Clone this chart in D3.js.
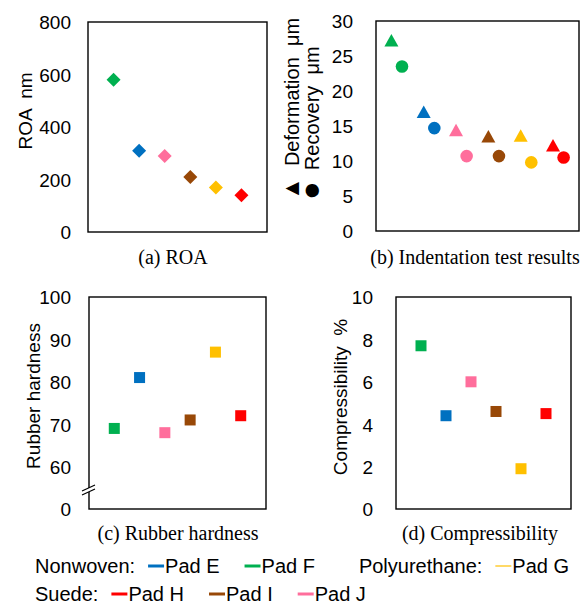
<!DOCTYPE html>
<html>
	<head>
		<meta charset="utf-8">
		<title>Pad properties</title>
		<script src="https://d3js.org/d3.v7.min.js"></script>
		<style type="text/css">
			body { margin: 0; background: #fff; }
			text { white-space: pre; }
			.tick text { font-family: "Liberation Sans", Arial, sans-serif; font-size: 19px; fill: #000; }
			.lbl { font-family: "Liberation Sans", Arial, sans-serif; font-size: 19px; fill: #000; }
			.ttl { font-family: "Liberation Serif", "Times New Roman", serif; font-size: 20px; fill: #000; }
			.leg { font-family: "Liberation Sans", Arial, sans-serif; font-size: 20px; fill: #000; }
		</style>
	</head>
	<body>
		<script type="text/javascript">

			//Pads, in the order they appear along the x axis
			var pads = ['Pad F', 'Pad E', 'Pad J', 'Pad I', 'Pad G', 'Pad H'];
			var padColors = ['#00B050', '#0070C0', '#FF6E9C', '#984807', '#FFC000', '#FF0000'];

			//Values
			var roa = [580, 310, 290, 210, 170, 140];
			var deformation = [27.2, 17.0, 14.4, 13.5, 13.6, 12.2];
			var recovery = [23.5, 14.7, 10.7, 10.7, 9.8, 10.5];
			var hardness = [69, 81, 68, 71, 87, 72];
			var compressibility = [7.7, 4.4, 6.0, 4.6, 1.9, 4.5];

			//Tick values
			var roaTicks = [0, 200, 400, 600, 800];
			var indentTicks = [0, 5, 10, 15, 20, 25, 30];
			var hardnessTicks = [50, 60, 70, 80, 90, 100];  //50 sits at the axis break and is shown as 0
			var compTicks = [0, 2, 4, 6, 8, 10];

			//Legend
			var legendGroups = ['Nonwoven:', 'Polyurethane:', 'Suede:'];
			var legendPads = [['Pad E', 'Pad F'], ['Pad G'], ['Pad H', 'Pad I', 'Pad J']];

			var svg = d3.select('body')
				.append('svg')
				.attr('width', 588)
				.attr('height', 606);

			function colorOf(p) { return padColors[pads.indexOf(p)]; }

			//Draws one framed panel, returns scales
			function panel(box, domain, ticks, pad, xPadding, fmt) {
				var x = d3.scalePoint().domain(pads).range([box.x0, box.x1]).padding(xPadding);
				var y = d3.scaleLinear().domain(domain).range([box.y1, box.y0]);
				var g = svg.append('g');
				var yAxis = d3.axisLeft(y).tickValues(ticks).tickSize(0).tickPadding(pad);
				if (fmt) yAxis.tickFormat(fmt);
				g.append('g')
					.attr('transform', 'translate(' + box.x0 + ',0)')
					.call(yAxis)
					.call(function(s) { s.select('.domain').remove(); })
					.selectAll('text').attr('dy', '0.36em');
				g.append('rect')
					.attr('x', box.x0).attr('y', box.y0)
					.attr('width', box.x1 - box.x0).attr('height', box.y1 - box.y0)
					.attr('fill', 'none').attr('stroke', '#000').attr('stroke-width', 1.4);
				return { x: x, y: y, g: g };
			}

			function vLabel(x, y, text, anchor) {
				return svg.append('text')
					.attr('class', 'lbl')
					.attr('transform', 'translate(' + x + ',' + y + ') rotate(-90)')
					.attr('text-anchor', anchor || 'middle')
					.attr('dy', '0.35em')
					.text(text);
			}

			function title(x, y, text) {
				svg.append('text').attr('class', 'ttl')
					.attr('x', x).attr('y', y).attr('text-anchor', 'middle').text(text);
			}

			//(a) ROA - diamonds
			var a = panel({ x0: 88, x1: 267, y0: 22, y1: 232 }, [0, 800], roaTicks, 17, 1);
			a.g.selectAll('path.pt')
				.data(roa)
				.enter()
				.append('path')
				.attr('d', 'M0,-7L7,0L0,7L-7,0Z')
				.attr('transform', function(d, i) { return 'translate(' + a.x(pads[i]) + ',' + a.y(d) + ')'; })
				.attr('fill', function(d, i) { return padColors[i]; });
			vLabel(25, 111, 'ROA  nm');
			title(173, 264, '(a) ROA');

			//(b) Indentation - triangles and circles
			var b = panel({ x0: 376, x1: 579, y0: 21, y1: 231 }, [0, 30], indentTicks, 23, 0.64);
			var off = 5.3;
			b.g.selectAll('path.tri')
				.data(deformation)
				.enter()
				.append('path')
				.attr('d', 'M0,-6.5L7,6L-7,6Z')
				.attr('transform', function(d, i) { return 'translate(' + (b.x(pads[i]) - off) + ',' + b.y(d) + ')'; })
				.attr('fill', function(d, i) { return padColors[i]; });
			b.g.selectAll('circle')
				.data(recovery)
				.enter()
				.append('circle')
				.attr('cx', function(d, i) { return b.x(pads[i]) + off; })
				.attr('cy', function(d) { return b.y(d); })
				.attr('r', 6.3)
				.attr('fill', function(d, i) { return padColors[i]; });
			var l1 = vLabel(292, 200, '', 'start').style('font-size', '20px');
			l1.append('tspan').style('font-size', '23px').text('\u25B2');
			l1.append('tspan').text('  Deformation  \u03BCm');
			var l2 = vLabel(319, 200, '', 'start').style('font-size', '20px');
			l2.append('tspan').style('font-size', '31px').attr('dy', '0.08em').text('\u25CF');
			l2.append('tspan').attr('dy', '-0.12em').text('  Recovery  \u03BCm');
			title(475, 264, '(b) Indentation test results');

			//(c) Rubber hardness - squares, broken axis
			var c = panel({ x0: 89, x1: 266, y0: 297, y1: 509 }, [50, 100], hardnessTicks, 18, 1,
				function(d) { return d === 50 ? '0' : d; });
			c.g.selectAll('rect.pt')
				.data(hardness)
				.enter()
				.append('rect')
				.attr('x', function(d, i) { return c.x(pads[i]) - 5.5; })
				.attr('y', function(d) { return c.y(d) - 5.5; })
				.attr('width', 11).attr('height', 11)
				.attr('fill', function(d, i) { return padColors[i]; });
			//axis break
			var yb = 490;
			c.g.append('rect').attr('x', 85).attr('y', yb - 2).attr('width', 8).attr('height', 4).attr('fill', '#fff');
			c.g.append('path')
				.attr('d', 'M82,' + (yb + 1) + 'L95,' + (yb - 5) + 'M82,' + (yb + 5) + 'L95,' + (yb - 1))
				.attr('stroke', '#000').attr('stroke-width', 1.2).attr('fill', 'none');
			vLabel(33, 396, 'Rubber hardness');
			title(178, 540, '(c) Rubber hardness');

			//(d) Compressibility - squares
			var dd = panel({ x0: 396, x1: 571, y0: 297, y1: 509 }, [0, 10], compTicks, 23, 1);
			dd.g.selectAll('rect.pt')
				.data(compressibility)
				.enter()
				.append('rect')
				.attr('x', function(d, i) { return dd.x(pads[i]) - 5.5; })
				.attr('y', function(d) { return dd.y(d) - 5.5; })
				.attr('width', 11).attr('height', 11)
				.attr('fill', function(d, i) { return padColors[i]; });
			vLabel(340, 397, 'Compressibility  %');
			title(480, 540, '(d) Compressibility');

			//Legend, laid out in flow
			var rows = [[0, 1], [2]];
			var rowY = [573, 601];
			var groupGap = [0, 44];
			rows.forEach(function(row, r) {
				var cx = 35;
				row.forEach(function(gi, k) {
					cx += groupGap[k];
					var t = svg.append('text').attr('class', 'leg')
						.attr('x', cx).attr('y', rowY[r]).text(legendGroups[gi]);
					cx += t.node().getComputedTextLength() + 13;
					legendPads[gi].forEach(function(p, j) {
						if (j > 0) cx += 25;
						var thin = p === 'Pad G';
						svg.append('line')
							.attr('x1', cx).attr('x2', cx + 16)
							.attr('y1', rowY[r] - 7).attr('y2', rowY[r] - 7)
							.attr('stroke', colorOf(p))
							.attr('stroke-width', thin ? 1.2 : 3);
						cx += 17;
						var pt = svg.append('text').attr('class', 'leg')
							.attr('x', cx).attr('y', rowY[r]).text(p);
						cx += pt.node().getComputedTextLength();
					});
				});
			});

		</script>
	</body>
</html>
